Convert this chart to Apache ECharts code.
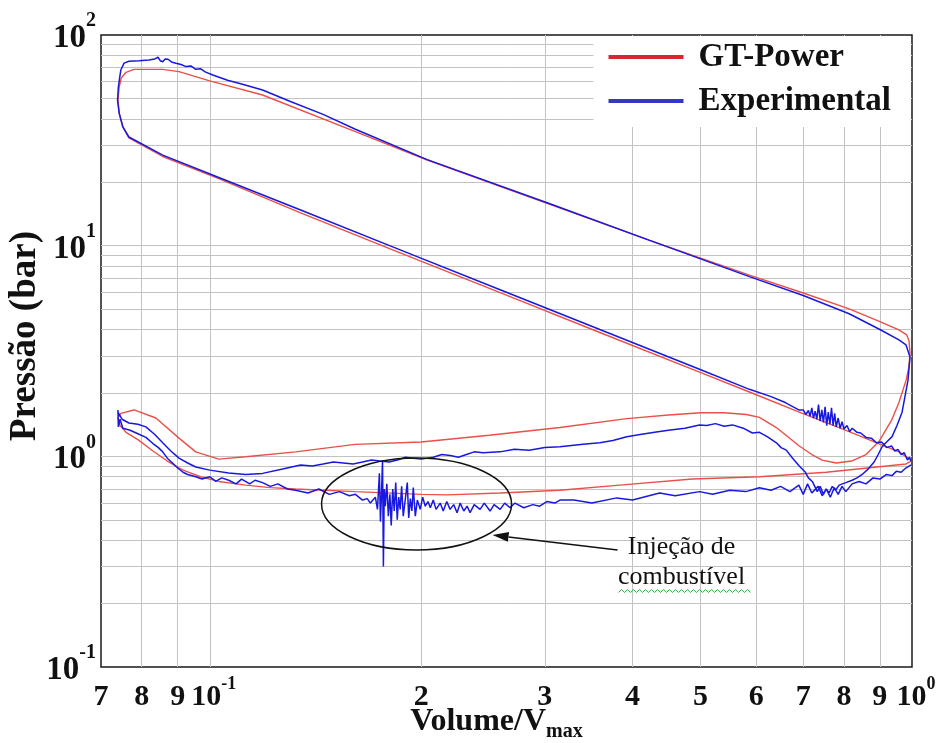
<!DOCTYPE html>
<html><head><meta charset="utf-8">
<script src="https://cdn.jsdelivr.net/npm/echarts@6/dist/echarts.min.js"></script>
<style>html,body{margin:0;padding:0;background:#fff}#c{width:945px;height:743px}</style>
</head><body><div id="c"></div>
<script>
// ---------- tick / grid definitions ----------
const xTickValues = [0.07,0.08,0.09,0.1,0.2,0.3,0.4,0.5,0.6,0.7,0.8,0.9,1];
const xTickLabels = ['7','8','9','10^-1','2','3','4','5','6','7','8','9','10^0'];
const xGridValues = [0.08,0.09,0.1,0.2,0.3,0.4,0.5,0.6,0.7,0.8,0.9];
const yTickValues = [0.1,1,10,100];
const yTickLabels = ['10^-1','10^0','10^1','10^2'];
const yGridValues = [0.2,0.3,0.4,0.5,0.6,0.7,0.8,0.9,1,2,3,4,5,6,7,8,9,10,20,30,40,50,60,70,80,90];
const seriesNames = ['GT-Power','Experimental'];

// ---------- GT-Power (simulated) : [V/Vmax, p (bar)] ----------
const gtCompression = [[0.9967,0.96],[0.958,1.05],[0.8138,1.31],[0.691,1.62],[0.5868,2.02],[0.4982,2.51],[0.3593,3.87],[0.2591,5.98],[0.1867,9.24],[0.1347,14.3],[0.103,20.8],[0.0857,26.5],[0.0767,32.5]];
const gtCombustion = [[0.0752,36.6],[0.0743,42.6],[0.0740,49.1],[0.0743,56.6],[0.0748,62.5],[0.0760,66.5],[0.0780,68.7],[0.0857,68.7],[0.0904,67.0],[0.0997,60.7],[0.1189,51.9],[0.1612,34.8]];
const gtExpansion = [[0.204,25.5],[0.305,15.7],[0.4231,10.6],[0.5868,7.25],[0.70,5.96],[0.8138,5.01],[0.90,4.36],[0.958,3.98],[0.983,3.77]];
const gtExhaust = [[0.990,3.55],[0.9935,3.1],[0.990,2.66],[0.981,2.3],[0.958,1.8],[0.935,1.48],[0.898,1.18],[0.860,1.02],[0.82,0.95],[0.78,0.93],[0.745,0.96],[0.72,1.02],[0.691,1.12],[0.641,1.37],[0.6063,1.53],[0.581,1.58],[0.54,1.61],[0.50,1.61],[0.45,1.57],[0.3925,1.51],[0.3152,1.37],[0.25,1.26],[0.20,1.17],[0.161,1.14],[0.1325,1.05],[0.1125,0.995],[0.103,0.97],[0.0955,1.05],[0.0904,1.22],[0.0838,1.52],[0.078,1.66],[0.0747,1.60],[0.0740,1.52]];
const gtIntake = [[0.0745,1.40],[0.0760,1.30],[0.0790,1.20],[0.0830,1.06],[0.0870,0.95],[0.0916,0.86],[0.0970,0.80],[0.1030,0.76],[0.1125,0.73],[0.1220,0.71],[0.1325,0.70],[0.1612,0.68],[0.2000,0.66],[0.2178,0.656],[0.2591,0.67],[0.3152,0.69],[0.3836,0.73],[0.4869,0.78],[0.6063,0.80],[0.7548,0.84],[0.9806,0.92],[0.9967,0.95]];

// ---------- Experimental (measured) : [V/Vmax, p (bar)] ----------
const expCompression = [[0.9967,0.95],[0.992,0.99],[0.985,0.96],[0.975,1.04],[0.965,1.02],[0.955,1.08],[0.945,1.06],[0.935,1.12],[0.920,1.10],[0.905,1.17],[0.890,1.16],[0.875,1.22],[0.860,1.23],[0.845,1.29],[0.835,1.30],[0.830,1.32],[0.822,1.36],[0.815,1.31],[0.808,1.40],[0.800,1.35],[0.795,1.46],[0.790,1.36],[0.785,1.52],[0.780,1.38],[0.776,1.60],[0.772,1.40],[0.768,1.70],[0.764,1.42],[0.760,1.62],[0.756,1.40],[0.752,1.72],[0.748,1.45],[0.744,1.66],[0.740,1.47],[0.736,1.76],[0.732,1.50],[0.728,1.64],[0.724,1.52],[0.720,1.70],[0.716,1.55],[0.712,1.65],[0.706,1.58],[0.700,1.66],[0.690,1.66],[0.660,1.80],[0.630,1.92],[0.5868,2.08],[0.4982,2.59],[0.3593,4.0],[0.2591,6.18],[0.1867,9.55],[0.1347,14.76],[0.103,21.07],[0.0857,26.9],[0.0767,32.8]];
const expCombustion = [[0.0752,36.6],[0.0743,42.6],[0.0739,49.1],[0.0741,56.6],[0.0744,62.5],[0.0747,68.2],[0.0755,73.5],[0.0767,75.0],[0.0793,75.5],[0.0819,76.1],[0.0835,77.0],[0.0844,78.4],[0.0850,75.5],[0.0857,74.6],[0.0864,77.0],[0.0872,76.7],[0.0882,74.5],[0.0895,73.4],[0.0910,72.4],[0.0925,70.8],[0.0940,71.3],[0.0955,68.7],[0.0970,69.2],[0.0985,66.8],[0.1010,64.6],[0.1060,61.0],[0.1110,58.5],[0.1189,54.8],[0.1300,48.5],[0.1450,42.0],[0.1612,35.7]];
const expExpansion = [[0.204,25.6],[0.305,15.8],[0.4231,10.6],[0.5868,7.13],[0.70,5.8],[0.8138,4.75],[0.900,4.0],[0.958,3.57],[0.9806,3.38],[0.9935,2.96]];
const expExhaust = [[0.987,2.30],[0.968,1.62],[0.952,1.40],[0.9367,1.24],[0.92,1.17],[0.9066,1.11],[0.895,1.02],[0.8832,0.94],[0.866,0.87],[0.8492,0.82],[0.835,0.79],[0.8217,0.77],[0.805,0.75],[0.7876,0.73],[0.778,0.69],[0.770,0.72],[0.762,0.67],[0.7548,0.70],[0.748,0.66],[0.740,0.72],[0.733,0.68],[0.7211,0.76],[0.712,0.79],[0.705,0.84],[0.691,0.90],[0.676,0.98],[0.6622,1.07],[0.651,1.10],[0.641,1.16],[0.622,1.24],[0.6063,1.30],[0.5925,1.29],[0.575,1.36],[0.5551,1.41],[0.54,1.39],[0.525,1.43],[0.51,1.40],[0.4982,1.41],[0.475,1.36],[0.45,1.33],[0.43,1.30],[0.41,1.27],[0.3925,1.24],[0.375,1.19],[0.3593,1.16],[0.34,1.14],[0.3152,1.11],[0.30,1.10],[0.285,1.07],[0.2715,1.08],[0.2591,1.05],[0.245,1.04],[0.238,1.05],[0.232,1.02],[0.226,0.99],[0.2200,1.01],[0.214,1.02],[0.2081,0.99],[0.200,0.97],[0.195,0.98],[0.190,0.99],[0.1850,0.96],[0.180,0.94],[0.1747,0.95],[0.170,0.96],[0.165,0.94],[0.160,0.92],[0.155,0.93],[0.150,0.94],[0.145,0.92],[0.140,0.90],[0.1347,0.91],[0.127,0.87],[0.1189,0.83],[0.1125,0.82],[0.1064,0.834],[0.100,0.86],[0.0955,0.89],[0.0930,0.93],[0.0904,0.98],[0.0880,1.06],[0.0857,1.16],[0.0835,1.27],[0.0811,1.38],[0.0790,1.42],[0.0767,1.44],[0.0750,1.50],[0.0740,1.62],[0.0740,1.66]];
const expIntake = [[0.0741,1.38],[0.0745,1.50],[0.0752,1.36],[0.0770,1.33],[0.0790,1.28],[0.0811,1.23],[0.0830,1.15],[0.0845,1.10],[0.0857,1.05],[0.0870,0.98],[0.0885,0.93],[0.0900,0.88],[0.0916,0.84],[0.0930,0.82],[0.0955,0.80],[0.0975,0.78],[0.1000,0.80],[0.1020,0.76],[0.1040,0.79],[0.1064,0.77],[0.1090,0.74],[0.1110,0.78],[0.1140,0.74],[0.1160,0.77],[0.1189,0.75],[0.1220,0.72],[0.1250,0.74],[0.1290,0.70],[0.1325,0.69],[0.138,0.67],[0.143,0.70],[0.148,0.66],[0.153,0.68],[0.158,0.65],[0.1612,0.66],[0.1650,0.62],
 [0.1676,0.63],[0.1693,0.60],[0.1721,0.64],[0.1733,0.56],[0.1744,0.83],[0.1750,0.49],[0.1756,0.66],[0.1762,0.96],[0.1767,0.30],[0.1772,0.70],[0.1778,0.58],[0.1787,0.74],[0.1796,0.52],[0.1805,0.66],[0.1813,0.47],[0.1822,0.70],[0.1831,0.55],[0.1840,0.75],[0.1849,0.50],[0.1858,0.64],[0.1867,0.56],[0.1876,0.72],[0.1886,0.52],[0.1898,0.62],[0.1911,0.75],[0.1920,0.51],[0.1930,0.63],[0.1940,0.55],[0.1949,0.71],[0.1962,0.52],[0.1975,0.62],[0.1994,0.56],[0.2010,0.64],[0.2027,0.58],[0.2045,0.61],[0.2061,0.57],[0.2081,0.62],[0.2100,0.56],[0.2129,0.60],[0.2150,0.55],[0.2175,0.61],[0.2199,0.56],[0.2225,0.59],[0.2250,0.54],[0.2273,0.60],[0.2300,0.55],[0.2325,0.58],[0.2348,0.54],[0.2380,0.59],[0.2426,0.56],[0.2460,0.60],[0.2507,0.55],[0.2540,0.59],[0.2591,0.56],[0.2630,0.60],[0.2677,0.57],[0.2720,0.60],[0.2800,0.57],[0.2885,0.59],[0.2950,0.58],[0.3020,0.61],[0.3100,0.60],[0.3152,0.62],
 [0.33,0.62],[0.35,0.60],[0.3798,0.635],[0.40,0.62],[0.4371,0.67],[0.46,0.65],[0.4982,0.68],[0.52,0.66],[0.55,0.69],[0.58,0.68],[0.6063,0.71],[0.63,0.69],[0.65,0.72],[0.67,0.68],[0.69,0.73],[0.70,0.66],[0.71,0.74],[0.72,0.67],[0.735,0.72],[0.745,0.65],[0.7548,0.70],[0.765,0.64],[0.775,0.71],[0.785,0.66],[0.795,0.72],[0.805,0.68],[0.8217,0.74],[0.8408,0.76],[0.86,0.74],[0.88,0.79],[0.90,0.78],[0.92,0.82],[0.9367,0.81],[0.95,0.85],[0.965,0.84],[0.98,0.88],[0.9967,0.91]];

const gtData = [].concat(gtCompression, gtCombustion, gtExpansion, gtExhaust, gtIntake);
const expData = [].concat(expCompression, expCombustion, expExpansion, expExhaust, expIntake);

const FONT = '"Liberation Serif", "Times New Roman", serif';

function lookup(values, labels, v) {
  for (let i = 0; i < values.length; i++) {
    if (Math.abs(values[i] - v) / values[i] < 1e-6) return labels[i];
  }
  return '';
}
function xFmt(v) {
  const s = lookup(xTickValues, xTickLabels, v);
  if (s.indexOf('^') >= 0) { const p = s.split('^'); return '{pad| }{b|' + p[0] + '}{s|' + p[1] + '}'; }
  return '{b|' + s + '}';
}
function yFmt(v) {
  const s = lookup(yTickValues, yTickLabels, v);
  const p = s.split('^');
  return '{b|' + p[0] + '}{s|' + p[1] + '}';
}

const chart = echarts.init(document.getElementById('c'), null, {renderer: 'canvas'});
const option = {
  animation: false,
  backgroundColor: '#ffffff',
  grid: {left: 101, top: 35, width: 811, height: 632, show: true, borderColor: '#1a1a1a', borderWidth: 1.5, backgroundColor: 'transparent', containLabel: false, outerBoundsMode: 'none'},
  legend: {
    right: 34, top: 36, orient: 'vertical', backgroundColor: '#ffffff',
    padding: [1, 20, 6, 15], itemWidth: 75, itemHeight: 4, itemGap: 4, icon: 'rect',
    selectedMode: false,
    textStyle: {fontFamily: FONT, fontWeight: 'bold', fontSize: 33, lineHeight: 40, color: '#111', padding: [0, 0, 0, 10]},
    data: [{name: seriesNames[0], itemStyle: {color: '#d8262e'}}, {name: seriesNames[1], itemStyle: {color: '#3636c4'}}]
  },
  xAxis: {
    type: 'log', logBase: 10, min: 0.07, max: 1,
    name: '{m|Volume/V}{sub|max}', nameLocation: 'middle', nameGap: 39, nameMoveOverlap: false,
    nameTextStyle: {padding: [0, 20, 0, 0], rich: {
      m: {fontFamily: FONT, fontWeight: 'bold', fontSize: 32, lineHeight: 36, color: '#111', verticalAlign: 'top'},
      sub: {fontFamily: FONT, fontWeight: 'bold', fontSize: 20, lineHeight: 40, color: '#111', verticalAlign: 'top', padding: [16, 0, 0, 0]}
    }},
    axisLine: {show: false},
    axisTick: {show: false, customValues: xGridValues},
    splitLine: {show: true, lineStyle: {color: '#c2c2c2', width: 1}},
    axisLabel: {
      customValues: xTickValues, margin: 8, formatter: xFmt,
      rich: {
        b: {fontFamily: FONT, fontWeight: 'bold', fontSize: 30, lineHeight: 40, color: '#111', verticalAlign: 'top', padding: [7, 0, 0, 0]},
        s: {fontFamily: FONT, fontWeight: 'bold', fontSize: 18, lineHeight: 20, color: '#111', verticalAlign: 'top'},
        pad: {width: 8, fontSize: 10}
      }
    }
  },
  yAxis: {
    type: 'log', logBase: 10, min: 0.1, max: 100,
    name: 'Pressão (bar)', nameLocation: 'middle', nameGap: 57, nameRotate: 90, nameMoveOverlap: false,
    nameTextStyle: {fontFamily: FONT, fontWeight: 'bold', fontSize: 37, color: '#111', padding: [0, 0, 0, 30]},
    axisLine: {show: false},
    axisTick: {show: false, customValues: yGridValues},
    splitLine: {show: true, lineStyle: {color: '#c2c2c2', width: 1}},
    axisLabel: {
      customValues: yTickValues, margin: 5, formatter: yFmt, padding: [0, 0, 0, 0],
      rich: {
        b: {fontFamily: FONT, fontWeight: 'bold', fontSize: 33, lineHeight: 48, color: '#111', verticalAlign: 'top', padding: [11, 0, 0, 0]},
        s: {fontFamily: FONT, fontWeight: 'bold', fontSize: 20, lineHeight: 22, color: '#111', verticalAlign: 'top'}
      }
    }
  },
  series: [
    {name: seriesNames[0], type: 'line', data: gtData, symbol: 'none', showSymbol: false, smooth: false,
     lineStyle: {color: '#ea5048', width: 1.4}, itemStyle: {color: '#ea5048'}, z: 3, silent: true},
    {name: seriesNames[1], type: 'line', data: expData, symbol: 'none', showSymbol: false, smooth: false,
     lineStyle: {color: '#1818e0', width: 1.5}, itemStyle: {color: '#1818e0'}, z: 4, silent: true}
  ]
};
chart.setOption(option);

// annotation anchored on the injection region (data coordinates)
const anchor = chart.convertToPixel({xAxisIndex: 0, yAxisIndex: 0}, [0.197, 0.594]);
const ax = anchor[0], ay = anchor[1];
const squiggle = [];
for (let i = 0; i <= 44; i++) squiggle.push([ax + 202 + i * 3, ay + 87 + (i % 2 ? -1.5 : 1.5)]);
const tip = [ax + 76, ay + 31], tail = [ax + 201, ay + 46];
const ang = Math.atan2(tail[1] - tip[1], tail[0] - tip[0]);
const hl = 16, hw = 5;
const hx = tip[0] + Math.cos(ang) * hl, hy = tip[1] + Math.sin(ang) * hl;
chart.setOption({
  graphic: [
    {type: 'ellipse', shape: {cx: ax, cy: ay, rx: 95, ry: 46}, style: {fill: 'none', stroke: '#111', lineWidth: 1.5}, z: 10, silent: true},
    {type: 'line', shape: {x1: tail[0], y1: tail[1], x2: hx, y2: hy}, style: {stroke: '#111', lineWidth: 1.5}, z: 10, silent: true},
    {type: 'polygon', shape: {points: [tip, [hx - Math.sin(ang) * hw, hy + Math.cos(ang) * hw], [hx + Math.sin(ang) * hw, hy - Math.cos(ang) * hw]]}, style: {fill: '#111'}, z: 10, silent: true},
    {type: 'text', x: ax + 265, y: ay + 43, style: {text: 'Injeção de', font: '26px ' + FONT, fill: '#111', align: 'center', verticalAlign: 'middle'}, z: 10, silent: true},
    {type: 'text', x: ax + 265, y: ay + 73, style: {text: 'combustível', font: '26px ' + FONT, fill: '#111', align: 'center', verticalAlign: 'middle'}, z: 10, silent: true},
    {type: 'polyline', shape: {points: squiggle}, style: {stroke: '#3aa845', lineWidth: 1, fill: 'none'}, z: 10, silent: true}
  ]
});
</script></body></html>
